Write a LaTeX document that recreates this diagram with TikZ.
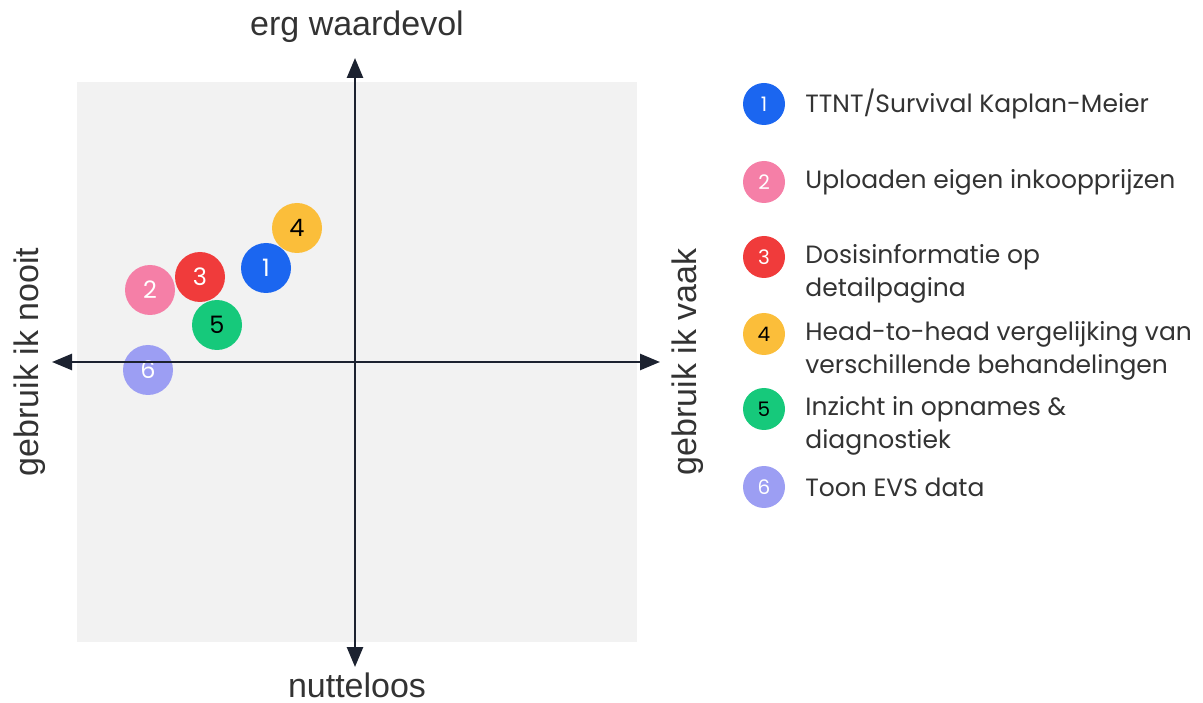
\documentclass[tikz,border=0pt]{standalone}
\usepackage{fontspec}
\setmainfont{Liberation Sans}
\newfontfamily\legendfont{Poppins}
\usepackage{tikz}
\usetikzlibrary{arrows.meta, positioning, calc}

\definecolor{bgGray}{HTML}{F2F2F2}
\definecolor{axisInk}{HTML}{1C2230}
\definecolor{cBlue}{HTML}{1B66F0}
\definecolor{cPink}{HTML}{F57FA7}
\definecolor{cRed}{HTML}{F03B3B}
\definecolor{cGold}{HTML}{FBBE3A}
\definecolor{cGreen}{HTML}{16C97B}
\definecolor{cLilac}{HTML}{9C9EF3}
\definecolor{legendInk}{HTML}{333333}

\begin{document}
\begin{tikzpicture}[
    x=1pt, y=-1pt,
    % --- STYLES ---
    dot/.style={circle, minimum size=50pt, inner sep=0pt, font=\legendfont\fontsize{24}{24}\selectfont},
    keydot/.style={dot, minimum size=42pt, font=\legendfont\fontsize{20}{20}\selectfont},
    item/.style={align=left, inner sep=0pt, text=legendInk, font=\legendfont\fontsize{25}{33}\selectfont},
    axislabel/.style={text=legendInk, inner sep=1pt, font=\fontsize{34}{34}\selectfont},
    axis/.style={{Triangle[length=20pt, width=16pt]}-{Triangle[length=20pt, width=16pt]}, line width=2.6pt, color=axisInk}
]
    \useasboundingbox (0,0) rectangle (1203,703);

    % --- PLANE ---
    \fill[bgGray] (77,82) rectangle (637,642);

    % --- POINTS ---
    \node[dot, fill=cGold, text=black] (p4) at (297,228) {4};
    \node[dot, fill=cBlue, text=white] (p1) at (266,268) {1};
    \node[dot, fill=cRed, text=white] (p3) at (200,277) {3};
    \node[dot, fill=cPink, text=white] (p2) at (150,290) {2};
    \node[dot, fill=cGreen, text=black] (p5) at (217,325) {5};
    \node[dot, fill=cLilac, text=white] (p6) at (148,370) {6};

    % --- AXES ---
    \coordinate (top) at (355,58);
    \coordinate (bottom) at (355,667);
    \coordinate (left) at (52,362);
    \coordinate (right) at (660,362);
    \draw[axis] (bottom) -- (top);
    \draw[axis] (left) -- (right);

    \node[axislabel] (valuable) at (357,27) {erg waardevol};
    \node[axislabel] (useless) at (357,685) {nutteloos};
    \node[axislabel, rotate=90] (never) at (30,362) {gebruik ik nooit};
    \node[axislabel, rotate=90] (often) at (688,362) {gebruik ik vaak};

    % --- LEGEND ---
    \node[keydot, fill=cBlue, text=white] (l1) at (764,104) {1};
    \node[keydot, fill=cPink, text=white] (l2) at (764,182) {2};
    \node[keydot, fill=cRed, text=white] (l3) at (764,257) {3};
    \node[keydot, fill=cGold, text=black] (l4) at (764,334) {4};
    \node[keydot, fill=cGreen, text=black] (l5) at (764,409) {5};
    \node[keydot, fill=cLilac, text=white] (l6) at (764,487) {6};

    \node[item, right=20pt of l1] (t1) {TTNT/Survival Kaplan-Meier};
    \node[item, right=20pt of l2] (t2) {Uploaden eigen inkoopprijzen};
    \node[item, right=20pt of l3, yshift=-16.5pt] (t3) {Dosisinformatie op\\detailpagina};
    \node[item, right=20pt of l4, yshift=-16.5pt] (t4) {Head-to-head vergelijking van\\verschillende behandelingen};
    \node[item, right=20pt of l5, yshift=-16.5pt] (t5) {Inzicht in opnames \&\\diagnostiek};
    \node[item, right=20pt of l6] (t6) {Toon EVS data};

\end{tikzpicture}
\end{document}
